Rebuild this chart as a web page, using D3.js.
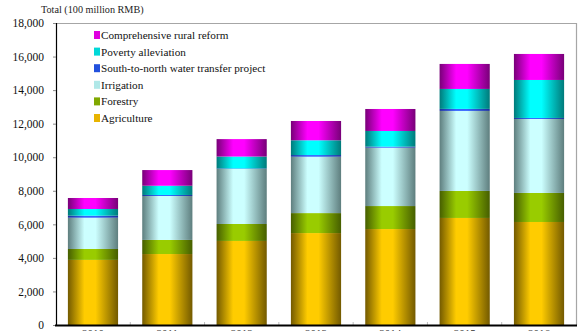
<!DOCTYPE html>
<html>
<head>
<meta charset="utf-8">
<script src="https://cdn.jsdelivr.net/npm/d3@7"></script>
<style>
  html, body { margin: 0; padding: 0; background: #fff; }
  svg { display: block; }
  svg text { font-family: "Liberation Serif", "Times New Roman", Times, serif; }
</style>
</head>
<body>
<svg id="chart" width="578" height="331"></svg>
<script>
// Investment by year, 100 million RMB
const years = ["2010", "2011", "2012", "2013", "2014", "2015", "2016"];
const agriculture   = [3880, 4230, 5010, 5480, 5720, 6380, 6140];
const forestry      = [650, 840, 1010, 1190, 1370, 1610, 1730];
const irrigation    = [1865, 2620, 3280, 3360, 3480, 4770, 4410];
const waterTransfer = [120, 60, 30, 100, 60, 120, 60];
const poverty       = [400, 550, 710, 880, 935, 1190, 2265];
const ruralReform   = [655, 935, 1040, 1150, 1310, 1490, 1550];
const yTicks = [0, 2000, 4000, 6000, 8000, 10000, 12000, 14000, 16000, 18000];

const seriesNames = ["Agriculture", "Forestry", "Irrigation",
  "South-to-north water transfer project", "Poverty alleviation", "Comprehensive rural reform"];
const seriesValues = [agriculture, forestry, irrigation, waterTransfer, poverty, ruralReform];
// [bright centre, dark edge, legend swatch]
const seriesColors = [
  ["#ffcc00", "#735a00", "#e8b400"],
  ["#99cc00", "#465e00", "#80a800"],
  ["#ccffff", "#5e7e7e", "#b0e8e8"],
  ["#3366ff", "#1a2f99", "#2250dd"],
  ["#00ffff", "#007a7a", "#00d8d8"],
  ["#ff00ff", "#780078", "#e000e0"]
];

const rows = years.map((y, i) => {
  const r = { year: y };
  seriesNames.forEach((n, k) => r[n] = seriesValues[k][i]);
  return r;
});
const stacked = d3.stack().keys(seriesNames)(rows);

const svg = d3.select("#chart");
const m = { left: 56, right: 576, top: 23, bottom: 325 };

const x = d3.scaleBand().domain(years).range([m.left, m.right]).paddingInner(0.325).paddingOuter(0.16);
const y = d3.scaleLinear().domain([0, 18000]).range([m.bottom, m.top]);

// Horizontal shading gradients for the cylinder-like bars
const defs = svg.append("defs");
seriesColors.forEach((c, k) => {
  const g = defs.append("linearGradient").attr("id", "grad" + k)
    .attr("x1", "0%").attr("x2", "100%").attr("y1", "0%").attr("y2", "0%");
  g.append("stop").attr("offset", "0%").attr("stop-color", c[1]);
  g.append("stop").attr("offset", "33%").attr("stop-color", c[0]);
  g.append("stop").attr("offset", "55%").attr("stop-color", c[0]);
  g.append("stop").attr("offset", "100%").attr("stop-color", c[1]);
});

// Plot frame: grey top and right edges
svg.append("path")
  .attr("d", `M${m.left},${m.top + 0.5}H${m.right + 0.5}V${m.bottom}`)
  .attr("fill", "none").attr("stroke", "#a6a6a6").attr("stroke-width", 1.2);

// Bars
svg.append("g").selectAll("g").data(stacked).join("g")
  .attr("fill", (d, k) => `url(#grad${k})`)
  .selectAll("rect").data(d => d).join("rect")
  .attr("x", d => x(d.data.year))
  .attr("width", x.bandwidth())
  .attr("y", d => y(d[1]))
  .attr("height", d => y(d[0]) - y(d[1]));

// Y axis
const yAxis = svg.append("g").attr("transform", `translate(${m.left},0)`)
  .call(d3.axisLeft(y).tickValues(yTicks).tickFormat(d3.format(",")).tickSize(3).tickPadding(9));
yAxis.attr("font-family", null);
yAxis.select(".domain").attr("stroke", "#000").attr("stroke-width", 1.2);
yAxis.selectAll(".tick line").attr("stroke", "#888");
yAxis.selectAll("text").attr("font-size", 11.5).attr("fill", "#111");

// X axis with category separators
const xAxis = svg.append("g").attr("transform", `translate(0,${m.bottom})`)
  .call(d3.axisBottom(x).tickSize(0).tickPadding(4));
xAxis.attr("font-family", null);
xAxis.select(".domain").remove();
xAxis.selectAll("text").attr("font-size", 11).attr("fill", "#333");
svg.append("g").selectAll("line").data(d3.range(1, years.length)).join("line")
  .attr("x1", i => m.left + i * (m.right - m.left) / years.length)
  .attr("x2", i => m.left + i * (m.right - m.left) / years.length)
  .attr("y1", m.bottom).attr("y2", m.bottom - 3)
  .attr("stroke", "#bbb");
svg.append("line").attr("x1", m.left - 1).attr("x2", m.right + 1)
  .attr("y1", m.bottom + 0.5).attr("y2", m.bottom + 0.5)
  .attr("stroke", "#000").attr("stroke-width", 2);

// Axis title
svg.append("text").attr("x", 41).attr("y", 13)
  .attr("font-size", 10.2).attr("fill", "#222").text("Total (100 million RMB)");

// Legend, top series first
const legendItems = seriesNames.map((n, k) => ({ n, k })).reverse();
const lg = svg.append("g").selectAll("g").data(legendItems).join("g")
  .attr("transform", (d, i) => `translate(94,${35 + i * 16.6})`);
lg.append("rect").attr("x", 0).attr("y", -4).attr("width", 6).attr("height", 8)
  .attr("fill", d => seriesColors[d.k][2]);
lg.append("text").attr("x", 7).attr("y", 4).attr("font-size", 11.2).attr("fill", "#111")
  .text(d => d.n);
</script>
</body>
</html>
